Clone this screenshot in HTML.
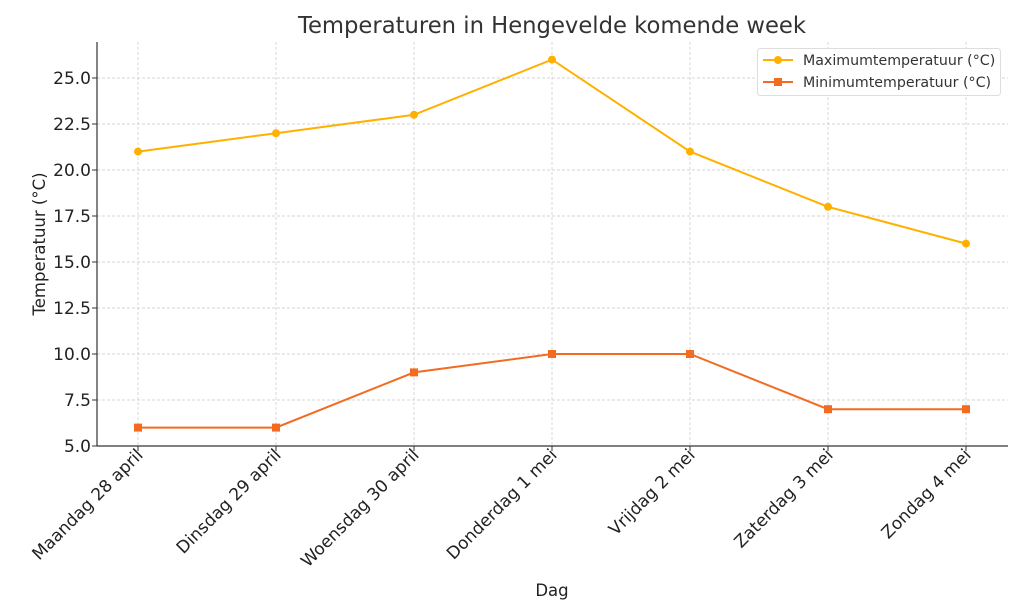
<!DOCTYPE html>
<html><head><meta charset="utf-8"><style>
html,body{margin:0;padding:0;background:#fff;}
svg{display:block;font-family:"DejaVu Sans","Liberation Sans",sans-serif;}
</style></head><body>
<svg id="chart" width="1024" height="614" viewBox="0 0 1024 614">
<rect width="1024" height="614" fill="#fff"/>
<text x="552" y="33" font-size="22.7" fill="#333" text-anchor="middle">Temperaturen in Hengevelde komende week</text>
<g id="grid"></g><g id="axes"></g><g id="series"></g>
<text x="552" y="596" font-size="16.5" fill="#222" text-anchor="middle">Dag</text>
<text transform="translate(45,244) rotate(-90)" font-size="16.5" fill="#222" text-anchor="middle">Temperatuur (°C)</text>
<g>
<rect x="757.5" y="48.5" width="243" height="47" rx="3" fill="#fff" stroke="#ddd"/>
<line x1="763" y1="60" x2="793" y2="60" stroke="#FFB000" stroke-width="2"/><circle cx="778" cy="60" r="4" fill="#FFB000"/>
<text x="803" y="65" font-size="14.2" fill="#333">Maximumtemperatuur (°C)</text>
<line x1="763" y1="82" x2="793" y2="82" stroke="#F26B21" stroke-width="2"/><rect x="774" y="78" width="8" height="8" fill="#F26B21"/>
<text x="803" y="87" font-size="14.2" fill="#333">Minimumtemperatuur (°C)</text>
</g>
</svg>
<script>
const categories=["Maandag 28 april","Dinsdag 29 april","Woensdag 30 april","Donderdag 1 mei","Vrijdag 2 mei","Zaterdag 3 mei","Zondag 4 mei"];
const maxTemps=[21,22,23,26,21,18,16];
const minTemps=[6,6,9,10,10,7,7];
const yTicks=[5.0,7.5,10.0,12.5,15.0,17.5,20.0,22.5,25.0];
const NS="http://www.w3.org/2000/svg";
const L=97,R=1008,T=42,B=446;
const xs=i=>138+i*138;
const ys=v=>446-(v-5)*18.4;
function mk(t,a,p){const e=document.createElementNS(NS,t);for(const k in a)e.setAttribute(k,a[k]);p.appendChild(e);return e;}
const grid=document.getElementById('grid'),axes=document.getElementById('axes'),ser=document.getElementById('series');
yTicks.forEach(v=>{const y=ys(v);
 const g=mk('line',{x1:L,x2:R,y1:y,y2:y,stroke:'#c8c8c8','stroke-dasharray':'3,2','stroke-width':0.7},grid);
 
 
 mk('line',{x1:L-5,x2:L,y1:y,y2:y,stroke:'#333'},axes);
 const t=mk('text',{x:L-6,y:y+6,'font-size':17,fill:'#222','text-anchor':'end'},axes);t.textContent=v.toFixed(1);
 
 
});
categories.forEach((c,i)=>{const x=xs(i);
 const g=mk('line',{x1:x,x2:x,y1:T,y2:B,stroke:'#c8c8c8','stroke-dasharray':'3,2','stroke-width':0.7},grid);
 
 
 mk('line',{x1:x,x2:x,y1:B,y2:B+5,stroke:'#333'},axes);
 const t=mk('text',{transform:`translate(${x+6},${B+10}) rotate(-45)`,'font-size':17,fill:'#222','text-anchor':'end'},axes);t.textContent=c;
 
 
});
mk('line',{x1:L,x2:L,y1:T,y2:B,stroke:'#333','stroke-width':1.2},axes);
mk('line',{x1:L,x2:R,y1:B,y2:B,stroke:'#333','stroke-width':1.2},axes);
function line(data,color,name,sq){
 const p=mk('polyline',{points:data.map((v,i)=>xs(i)+','+ys(v)).join(' '),fill:'none',stroke:color,'stroke-width':2},ser);
 
 
 data.forEach((v,i)=>{let m;
  if(sq)m=mk('rect',{x:xs(i)-4,y:ys(v)-4,width:8,height:8,fill:color},ser);
  else m=mk('circle',{cx:xs(i),cy:ys(v),r:4,fill:color},ser);
  
  
 });
}
line(maxTemps,'#FFB000','max-temp',false);
line(minTemps,'#F26B21','min-temp',true);
</script>
</body></html>
